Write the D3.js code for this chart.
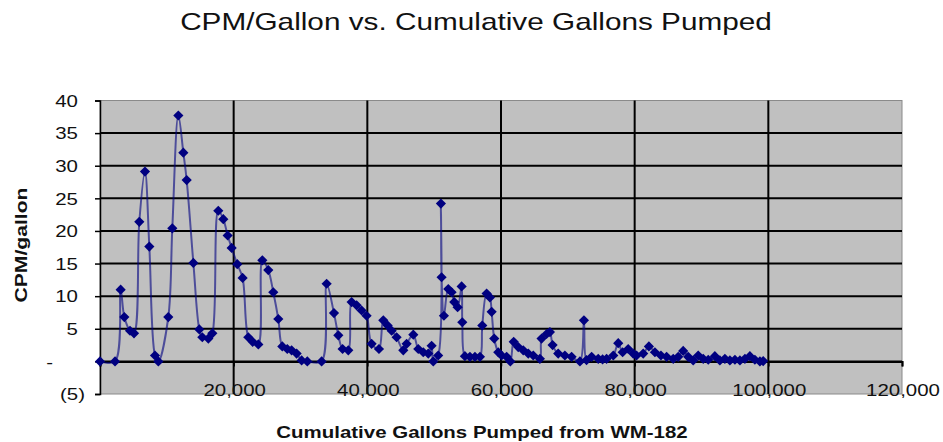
<!DOCTYPE html>
<html>
<head>
<meta charset="utf-8">
<script src="https://cdn.jsdelivr.net/npm/d3@7"></script>
<style>
  body { margin: 0; background: #fff; }
  svg { display: block; }
  text { font-family: 'Liberation Sans', Arial, sans-serif; fill: #111; }
</style>
</head>
<body>
<div id="chart"></div>
<script>
// values
const gallons = [
  0, 2250, 3090, 3640, 4490, 5090, 5880, 6730, 7380, 8230, 8730,
  10220, 10820, 11720, 12470, 12970, 13970, 14860, 15310, 16210, 16810,
  17700, 18450, 19100, 19700, 20540, 21340, 22190, 22840, 23690, 24290,
  25180, 25930, 26680, 27280, 28020, 28670, 29420, 30170, 31020, 33160,
  33910, 35010, 35660, 36300, 37150, 37650, 38400, 39150, 39890, 40640,
  41740, 42390, 43040, 43640, 44380, 45380, 45880, 46880, 47620, 48370,
  49120, 49620, 49870, 50600, 51010, 51110, 51460, 52110, 52610, 53010,
  53510, 54110, 54210, 54600, 55350, 56100, 56850, 57200, 57850, 58340,
  58600, 58990, 59590, 60090, 60840, 61400, 61900, 62580, 63330, 64080,
  64830, 65820, 66070, 66820, 67320, 67720, 68560, 69560, 70560, 71810,
  72410, 72800, 73560, 74550, 75200, 75800, 76800, 77540, 78200, 79030,
  79780, 80280, 81280, 82130, 83030, 83930, 84780, 85770, 86520, 87260,
  88010, 88760, 89510, 90260, 91010, 92000, 92750, 93500, 94250, 95000,
  95750, 96500, 97240, 97990, 98740, 99230
]
const cpm = [
  0, 0, 11.0, 6.8, 4.7, 4.3, 21.4, 29.1, 17.6, 0.9, 0,
  6.8, 20.4, 37.7, 32.0, 27.8, 15.1, 4.9, 3.7, 3.5, 4.3,
  23.1, 21.8, 19.3, 17.4, 14.9, 12.8, 3.7, 3.0, 2.6, 15.5,
  14.0, 10.6, 6.5, 2.3, 1.9, 1.7, 1.2, 0.15, 0, 0,
  11.9, 7.4, 4.0, 1.9, 1.7, 9.1, 8.6, 7.8, 7.0, 2.7,
  1.9, 6.3, 5.5, 4.7, 3.7, 1.7, 2.7, 4.1, 1.9, 1.4,
  1.2, 2.4, 0, 0.9, 24.2, 12.9, 7.0, 11.1, 10.6, 9.1,
  8.3, 11.5, 6.0, 0.8, 0.7, 0.7, 0.7, 5.5, 10.4, 9.8,
  7.6, 3.5, 1.4, 0.9, 0.7, 0, 3.0, 2.2, 1.7, 1.2,
  0.9, 0.4, 3.5, 4.2, 4.5, 2.5, 1.2, 0.9, 0.7, 0,
  6.3, 0.2, 0.7, 0.4, 0.3, 0.4, 0.9, 2.8, 1.4, 1.9,
  1.2, 0.9, 1.2, 2.3, 1.4, 0.9, 0.7, 0.4, 0.7, 1.6,
  0.7, 0.15, 0.9, 0.4, 0.25, 0.8, 0.15, 0.4, 0.15, 0.25,
  0.15, 0.4, 0.8, 0.25, 0, 0.05
]
const yTicks = [-5, 0, 5, 10, 15, 20, 25, 30, 35, 40]
const xTicks = [0, 20000, 40000, 60000, 80000, 100000, 120000]

const margin = { top: 100.5, left: 100, right: 41, bottom: 48 }
const width = 943 - margin.left - margin.right
const height = 442 - margin.top - margin.bottom
const stretch = 1.24 // the reference text is drawn wide

const root = d3
  .select('#chart')
  .append('svg')
  .attr('width', 943)
  .attr('height', 442)

const svg = root
  .append('g')
  .attr('transform', 'translate(' + margin.left + ',' + margin.top + ')')

const xScale = d3.scaleLinear().domain([0, 120000]).range([0, width])
const yScale = d3.scaleLinear().domain([-5, 40]).range([height, 0])

const points = gallons.map((g, i) => ({ x: g, y: cpm[i] }))

// plot area
svg
  .append('rect')
  .attr('width', width)
  .attr('height', height)
  .attr('fill', '#c0c0c0')
  .attr('stroke', '#8a8a8a')
  .attr('stroke-width', 1)

// gridlines
svg
  .selectAll('.hgrid')
  .data(yTicks.filter(d => d > -5 && d < 40))
  .enter()
  .append('line')
  .attr('class', 'hgrid')
  .attr('x1', 0)
  .attr('x2', width)
  .attr('y1', d => yScale(d))
  .attr('y2', d => yScale(d))
  .attr('stroke', '#000')
  .attr('stroke-width', 2)

svg
  .selectAll('.vgrid')
  .data(xTicks.filter(d => d > 0 && d < 120000))
  .enter()
  .append('line')
  .attr('class', 'vgrid')
  .attr('y1', 0)
  .attr('y2', height)
  .attr('x1', d => xScale(d))
  .attr('x2', d => xScale(d))
  .attr('stroke', '#000')
  .attr('stroke-width', 2)

// y axis
const yAxis = svg
  .append('g')
  .call(
    d3
      .axisLeft(yScale)
      .tickValues(yTicks)
      .tickSize(5)
      .tickFormat(d => (d < 0 ? '(' + -d + ')' : d === 0 ? '-' : d))
  )
yAxis.select('.domain').attr('stroke', '#000').attr('stroke-width', 1.5)
yAxis.selectAll('.tick line').attr('stroke', '#000').attr('stroke-width', 1.5)
yAxis
  .selectAll('.tick text')
  .attr('x', 0)
  .attr('dy', '0.35em')
  .attr('font-size', 16.5)
  .attr('text-anchor', 'end')
  .attr('transform', d => {
    const dx = d < 0 ? -15 : d === 0 ? -47 : -22
    return 'translate(' + dx + ',0) scale(' + stretch + ',1)'
  })

// x axis crosses at zero, labels sit at the bottom
const xAxis = svg
  .append('g')
  .attr('transform', 'translate(0,' + yScale(0) + ')')
  .call(d3.axisBottom(xScale).tickValues(xTicks).tickSize(5).tickFormat(''))
xAxis.select('.domain').attr('stroke', '#000').attr('stroke-width', 2)
xAxis.selectAll('.tick line').attr('stroke', '#000').attr('stroke-width', 1.5)

svg
  .selectAll('.x-label')
  .data(xTicks.filter(d => d > 0))
  .enter()
  .append('text')
  .attr('class', 'x-label')
  .text(d => d3.format(',')(d))
  .attr('text-anchor', 'middle')
  .attr('font-size', 16.5)
  .attr('transform', d => `translate(${xScale(d) + 1},${height + 2}) scale(${stretch},1)`)

// series
const line = d3
  .line()
  .x(d => xScale(d.x))
  .y(d => yScale(d.y))
  .curve(d3.curveCatmullRom.alpha(0.5))

svg
  .append('path')
  .datum(points)
  .attr('d', line)
  .attr('fill', 'none')
  .attr('stroke', '#000080')
  .attr('stroke-opacity', 0.6)
  .attr('stroke-width', 2)

svg
  .selectAll('.marker')
  .data(points)
  .enter()
  .append('path')
  .attr('class', 'marker')
  .attr('d', d3.symbol(d3.symbolSquare, 52))
  .attr('transform', d => `translate(${xScale(d.x)},${yScale(d.y)}) rotate(45)`)
  .attr('fill', '#000080')

// titles
root
  .append('text')
  .text('CPM/Gallon vs. Cumulative Gallons Pumped')
  .attr('text-anchor', 'middle')
  .attr('font-size', 24)
  .attr('transform', `translate(476,30) scale(${stretch},1)`)

root
  .append('text')
  .text('Cumulative Gallons Pumped from WM-182')
  .attr('text-anchor', 'middle')
  .attr('font-size', 16.5)
  .attr('font-weight', 'bold')
  .attr('transform', `translate(482,438) scale(${stretch},1)`)

root
  .append('text')
  .text('CPM/gallon')
  .attr('text-anchor', 'middle')
  .attr('font-size', 17)
  .attr('font-weight', 'bold')
  .attr('textLength', 115)
  .attr('lengthAdjust', 'spacingAndGlyphs')
  .attr('transform', 'translate(27,245) rotate(-90)')
</script>
</body>
</html>
